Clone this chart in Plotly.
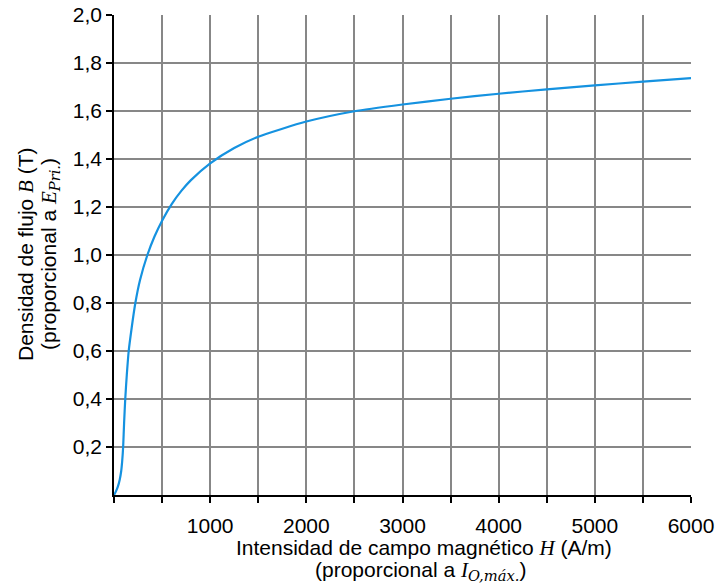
import plotly.graph_objects as go

# Magnetization curve: field intensity H (A/m) vs flux density B (T)
H = [0, 20, 40, 60, 75, 85, 95, 105, 117, 133, 153, 185, 222, 270, 347, 420,
     500, 600, 700, 800, 1000, 1250, 1500, 2000, 2500, 3000, 3500, 4000,
     4500, 5000, 5500, 6000]
B = [0, 0.015, 0.035, 0.065, 0.1, 0.14, 0.2, 0.3, 0.4, 0.5, 0.6, 0.7, 0.8, 0.895,
     1.0, 1.076, 1.143, 1.212, 1.267, 1.312, 1.382, 1.446, 1.493, 1.556, 1.599,
     1.627, 1.651, 1.672, 1.690, 1.707, 1.722, 1.737]

x_ticks = [1000, 2000, 3000, 4000, 5000, 6000]
x_labels = ["1000", "2000", "3000", "4000", "5000", "6000"]
y_ticks = [0.2, 0.4, 0.6, 0.8, 1.0, 1.2, 1.4, 1.6, 1.8, 2.0]
y_labels = ["0,2", "0,4", "0,6", "0,8", "1,0", "1,2", "1,4", "1,6", "1,8", "2,0"]

MATH = "font-family:'Liberation Serif'"
SUB = "font-family:'DejaVu Serif'"
FONT = "Arial, 'Liberation Sans', sans-serif"
GRID = "#878787"
SIZE = 21

x_title = [
    f"Intensidad de campo magnético <span style=\"{MATH}\"><i>H</i></span> (A/m)",
    (f"(proporcional a <span style=\"{MATH}\"><i>I</i></span>"
     f"<sub><span style=\"{SUB}\"><i>O,máx.</i></span></sub>)"),
]
y_title = [
    f"Densidad de flujo <span style=\"{MATH}\"><i>B</i></span> (T)",
    (f"(proporcional a <span style=\"{MATH}\"><i>E</i></span>"
     f"<sub><span style=\"{SUB}\"><i>Pri.</i></span></sub>)"),
]

fig = go.Figure()
fig.add_trace(go.Scatter(
    x=H, y=B, mode="lines",
    line=dict(color="#1592e0", width=2.2, shape="spline", smoothing=0.6),
    hoverinfo="skip", showlegend=False,
))

axis_common = dict(
    automargin=False,
    showgrid=True, gridcolor=GRID, gridwidth=1.6,
    showline=True, linecolor="black", linewidth=1.6,
    ticks="outside", ticklen=6, tickwidth=1.6, tickcolor="black",
    tickfont=dict(size=SIZE),
    zeroline=False,
)
fig.update_xaxes(
    range=[0, 6000], tickvals=x_ticks, ticktext=x_labels,
    ticklabelstandoff=5,
    minor=dict(dtick=500, tick0=0, showgrid=True, gridcolor=GRID, gridwidth=1.6,
               ticks="outside", ticklen=6, tickwidth=1.6, tickcolor="black"),
    **axis_common,
)
fig.update_yaxes(
    range=[0, 2.0], tickvals=y_ticks, ticktext=y_labels,
    **axis_common,
)

# Two-line axis titles, each line placed on its own
title_font = dict(family=FONT, size=SIZE, color="black")
for text, dx, dy in zip(x_title, [21, 18], [-53, -76]):
    fig.add_annotation(text=text, xref="paper", yref="paper", x=0.5, y=0,
                       xshift=dx, yshift=dy, xanchor="center", yanchor="middle",
                       showarrow=False, font=title_font)
for text, dx in zip(y_title, [-88, -64]):
    fig.add_annotation(text=text, xref="paper", yref="paper", x=0, y=0.5,
                       xshift=dx, yshift=1, xanchor="center", yanchor="middle",
                       textangle=-90, showarrow=False, font=title_font)

fig.update_layout(
    width=715, height=586,
    margin=dict(l=114, r=24, t=15, b=91),
    paper_bgcolor="white", plot_bgcolor="white",
    font=dict(family=FONT, size=SIZE, color="black"),
)

fig.write_html("out.html")
